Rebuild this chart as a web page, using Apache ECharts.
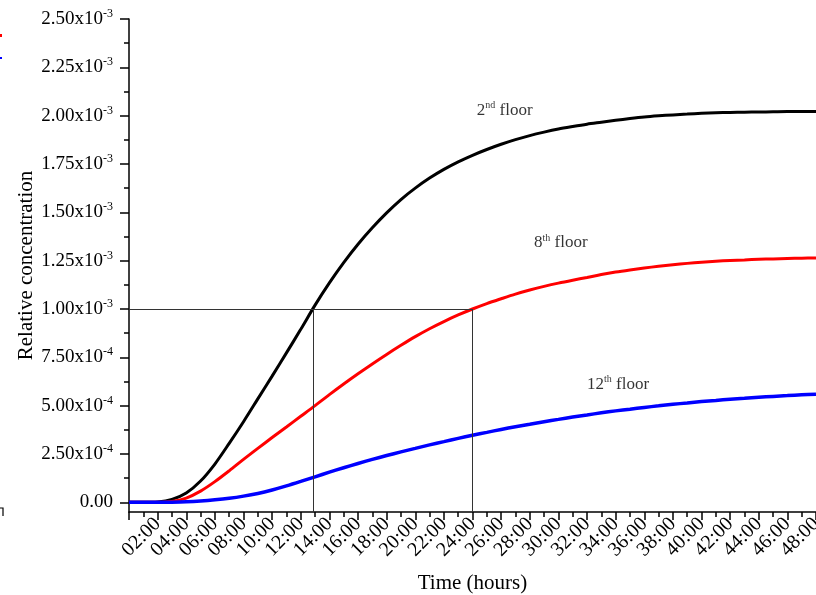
<!DOCTYPE html>
<html><head><meta charset="utf-8">
<script src="https://cdn.jsdelivr.net/npm/echarts@6/dist/echarts.min.js"></script>
<style>html,body{margin:0;padding:0;background:#fff}#c{width:816px;height:595px}</style>
</head><body><div id="c"></div>
<script>
// Time in hours
const hours = [0,1,2,3,4,5,6,7,8,9,10,11,12,13,14,15,16,17,18,19,20,21,22,23,24,25,26,27,28,29,30,31,32,33,34,35,36,37,38,39,40,41,42,43,44,45,46,47,48];
// Relative concentration, in units of 1e-3
const floor2 = [0,0,0.002,0.015,0.048,0.11,0.198,0.305,0.417,0.535,0.653,0.773,0.895,1.02,1.135,1.24,1.335,1.42,1.497,1.566,1.625,1.677,1.722,1.761,1.795,1.825,1.852,1.876,1.897,1.915,1.931,1.944,1.956,1.966,1.976,1.985,1.993,1.999,2.004,2.008,2.012,2.015,2.017,2.018,2.019,2.02,2.021,2.021,2.022];
const floor8 = [0,0,0,0.004,0.022,0.058,0.107,0.163,0.222,0.279,0.335,0.39,0.445,0.50,0.557,0.612,0.665,0.716,0.765,0.812,0.857,0.898,0.935,0.969,1.0,1.028,1.053,1.077,1.098,1.117,1.134,1.149,1.163,1.178,1.191,1.202,1.212,1.221,1.229,1.236,1.242,1.247,1.251,1.254,1.257,1.259,1.261,1.263,1.264];
const floor12 = [0,0,0,0.001,0.003,0.007,0.013,0.021,0.032,0.046,0.064,0.085,0.108,0.132,0.156,0.179,0.201,0.222,0.242,0.261,0.279,0.297,0.314,0.331,0.347,0.362,0.377,0.391,0.404,0.417,0.429,0.441,0.452,0.463,0.473,0.482,0.491,0.499,0.507,0.514,0.521,0.527,0.533,0.538,0.543,0.548,0.552,0.556,0.559];
const yMajorTicks = [0,0.25,0.5,0.75,1.0,1.25,1.5,1.75,2.0,2.25,2.5];
const yMinorTicks = [0.125,0.375,0.625,0.875,1.125,1.375,1.625,1.875,2.125,2.375];
// floor annotations: [text, superscript, hour, value]
const floorNames = [['2','nd',24.3,2.026],['8','th',28.3,1.342],['12','th',32.0,0.611]];
// reference guide lines: target level and the times it is reached
const refLevel = 1.0;
const refTimes = [12.9, 24];
const yMin = -0.05, yMax = 2.5;

const FONT = '"Liberation Serif","Times New Roman",serif';
function fmtY(v){
  if (Math.abs(v) < 1e-9) return '{m|0.00}';
  let e, m;
  if (v >= 1 - 1e-9) { e = -3; m = v; } else { e = -4; m = v * 10; }
  return '{m|' + m.toFixed(2) + 'x10}{s|' + e + '}';
}
function fmtX(v){ return (v < 10 ? '0' : '') + v + ':00'; }
const pts = arr => hours.map((h,i)=>[h, arr[i]]);

const chart = echarts.init(document.getElementById('c'), null, {renderer:'canvas'});
const refData = [[{coord:[0,refLevel]},{coord:[refTimes[1],refLevel]}]];
refTimes.forEach(t => refData.push([{coord:[t,refLevel]},{coord:[t,yMin]}]));

chart.setOption({
  animation:false,
  backgroundColor:'#fff',
  textStyle:{fontFamily:FONT, color:'#000'},
  grid:{left:129, right:0, top:19, bottom:83, containLabel:false, outerBoundsMode:'none'},
  xAxis:{
    type:'value', min:0, max:48, interval:2,
    name:'Time (hours)', nameLocation:'middle', nameGap:61, nameMoveOverlap:false,
    nameTextStyle:{fontFamily:FONT, fontSize:21, color:'#000'},
    axisLine:{show:true, onZero:false, lineStyle:{color:'#000', width:1.5}},
    axisTick:{show:true, inside:false, length:8, lineStyle:{color:'#000', width:1.5}},
    minorTick:{show:true, splitNumber:2, length:5, lineStyle:{color:'#000', width:1.5}},
    splitLine:{show:false}, minorSplitLine:{show:false},
    axisLabel:{rotate:45, fontFamily:FONT, fontSize:20, color:'#000', margin:9, showMinLabel:false, formatter:fmtX}
  },
  yAxis:[{
    type:'value', min:yMin, max:yMax,
    name:'Relative concentration', nameLocation:'middle', nameGap:92, nameMoveOverlap:false,
    nameTextStyle:{fontFamily:FONT, fontSize:21, color:'#000'},
    axisLine:{show:true, lineStyle:{color:'#000', width:1.5}},
    axisTick:{show:true, inside:false, length:9, customValues:yMajorTicks, lineStyle:{color:'#000', width:1.5}},
    splitLine:{show:false},
    axisLabel:{customValues:yMajorTicks, margin:16, formatter:fmtY, color:'#000',
      rich:{m:{fontFamily:FONT, fontSize:19, color:'#000', lineHeight:22},
            s:{fontFamily:FONT, fontSize:12, color:'#000', verticalAlign:'top', lineHeight:22}}}
  },{
    type:'value', min:yMin, max:yMax, position:'left',
    axisLine:{show:false},
    axisTick:{show:true, inside:false, length:5, customValues:yMinorTicks, lineStyle:{color:'#000', width:1.5}},
    axisLabel:{show:false}, splitLine:{show:false}
  }],
  series:[
    {type:'line', data:[], z:1, silent:true,
     markLine:{silent:true, symbol:['none','none'], label:{show:false}, animation:false,
       lineStyle:{color:'#333', width:1, type:'solid'}, emphasis:{disabled:true}, data:refData}},
    {name:'2nd floor', type:'line', data:pts(floor2), showSymbol:false, smooth:0.3, z:2,
     lineStyle:{color:'#000', width:3}, itemStyle:{color:'#000'}},
    {name:'8th floor', type:'line', data:pts(floor8), showSymbol:false, smooth:0.3, z:3,
     lineStyle:{color:'#ff0000', width:3}, itemStyle:{color:'#ff0000'}},
    {name:'12th floor', type:'line', data:pts(floor12), showSymbol:false, smooth:0.3, z:4,
     lineStyle:{color:'#0000ff', width:3.5}, itemStyle:{color:'#0000ff'}},
    {type:'scatter', symbolSize:0, silent:true, z:5,
     data:floorNames.map(f=>({value:[f[2],f[3]], name:f[0]+'|'+f[1]})),
     label:{show:true, position:'inside', align:'left', verticalAlign:'middle',
       formatter:p=>{const s=p.name.split('|'); return '{n|'+s[0]+'}{s|'+s[1]+'}{n| floor}';},
       rich:{n:{fontFamily:FONT, fontSize:17, color:'#000', lineHeight:20},
             s:{fontFamily:FONT, fontSize:10, color:'#000', verticalAlign:'top', lineHeight:20}}}}
  ],
  graphic:[
    {type:'rect', shape:{x:0,y:34,width:2,height:3}, style:{fill:'#ff0000'}},
    {type:'rect', shape:{x:0,y:57,width:2,height:2}, style:{fill:'#0000ff'}},
    {type:'polyline', shape:{points:[[0,508],[3,508],[3,516]]}, style:{stroke:'#000', lineWidth:1.2, fill:null}}
  ]
});
</script></body></html>
